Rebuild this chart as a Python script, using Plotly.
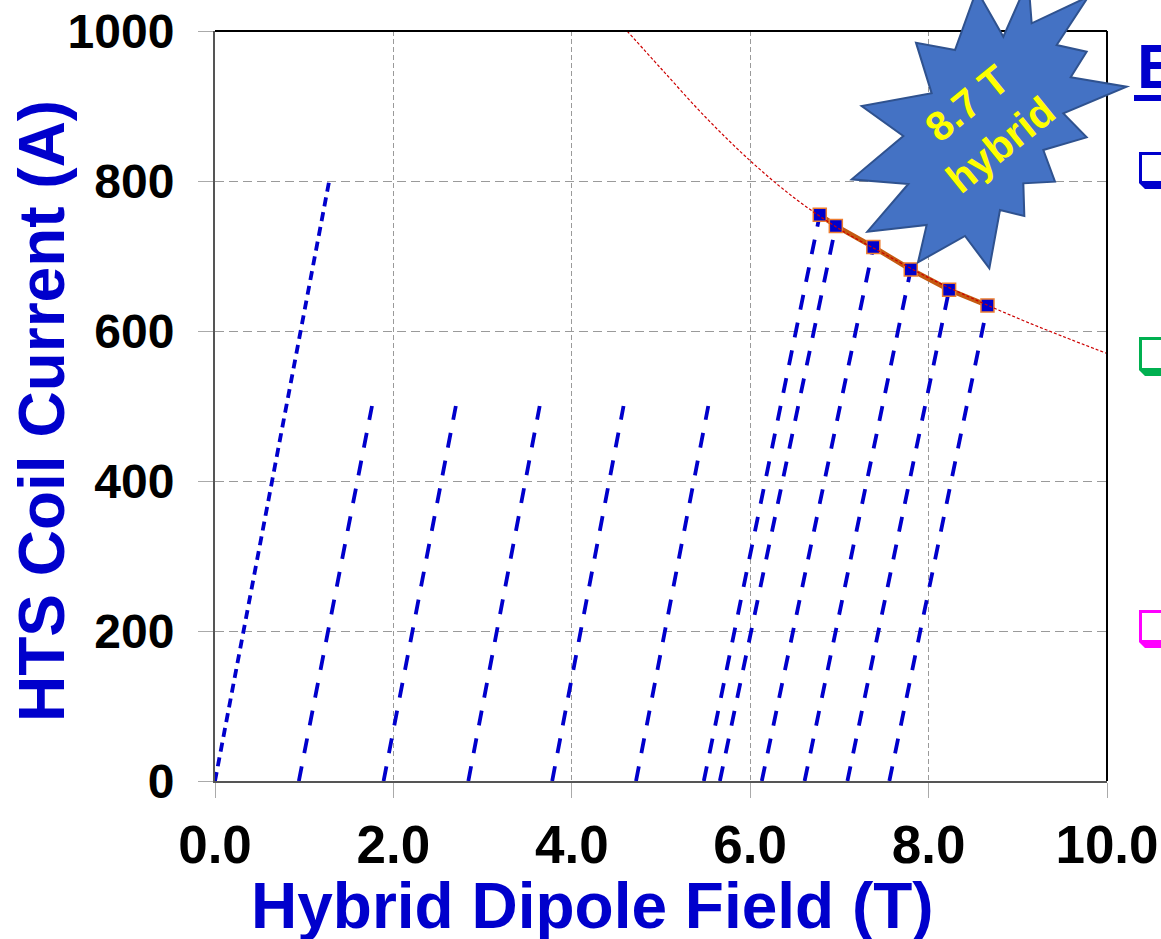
import plotly.graph_objects as go

# ---- data ----
x_ticks = [0, 2, 4, 6, 8, 10]
y_ticks = [0, 200, 400, 600, 800, 1000]

first_x = [0.0, 1.28]
first_y = [0, 800]

start_500 = [0.94, 1.89, 2.84, 3.78, 4.72]
end_500 = [1.76, 2.70, 3.64, 4.58, 5.53]

start_peak = [5.48, 5.66, 6.13, 6.61, 7.09, 7.56]
peak_b = [6.78, 6.96, 7.38, 7.80, 8.23, 8.66]
peak_i = [755, 740, 712, 682, 655, 634]

limit_b = [4.62, 5.0, 5.5, 6.0, 6.5, 7.0, 7.5, 8.0, 8.5, 9.0, 9.5, 10.0]
limit_i = [1000, 950, 885, 827, 777, 736, 703, 671, 643, 617, 593, 570]

# ---- styling ----
BLUE = "#0000cc"
FONT = "Liberation Sans, Arial, sans-serif"
W, H = 1161, 939
L, R, T, B = 215, 1107, 31, 781


def pa_x(v):
    return (v - L) / (R - L)


def pa_y(v):
    return (B - v) / (B - T)


star_zoom = [(525,150),(408,128),(455,280),(245,318),(370,408),(215,538),(385,552),(262,695),
             (440,675),(414,787),(555,708),(628,805),(660,630),(733,648),(730,550),(825,545),
             (790,450),(920,412),(850,340),(1040,260),(872,232),(920,155),(830,135),(925,-10),
             (755,70),(745,-60),(670,110),(590,-30)]
star_path = "M" + " L".join(f"{pa_x(780 + a / 3):.5f},{pa_y(b / 3):.5f}" for a, b in star_zoom) + " Z"

fig = go.Figure()
fig.add_trace(go.Scatter(x=first_x, y=first_y, mode="lines", showlegend=False,
                         line=dict(color=BLUE, width=3.8, dash="9px,6px")))
for s, e in zip(start_500, end_500):
    fig.add_trace(go.Scatter(x=[s, e], y=[0, 500], mode="lines", showlegend=False,
                             line=dict(color=BLUE, width=3.8, dash="15px,13.3px")))
for s, e, i in zip(start_peak, peak_b, peak_i):
    fig.add_trace(go.Scatter(x=[s, e], y=[0, i], mode="lines", showlegend=False,
                             line=dict(color=BLUE, width=3.8, dash="15px,13.3px")))
fig.add_trace(go.Scatter(x=peak_b, y=peak_i, mode="lines+markers", showlegend=False,
                         line=dict(color="#c55a11", width=5),
                         marker=dict(symbol="square", size=13, color=BLUE,
                                     line=dict(color="#ed7d31", width=1.5))))
fig.add_trace(go.Scatter(x=limit_b, y=limit_i, mode="lines", showlegend=False, line_shape="spline",
                         line=dict(color="#cc0000", width=1.2, dash="3px,2px")))


def box_shape(y0, y1, color):
    x0, x1 = 1139, 1170
    outer = [(x0, y0), (x1, y0), (x1, y1), (x0 + 6, y1), (x0, y1 - 6)]
    inner = [(x0 + 3, y0 + 3), (x1, y0 + 3), (x1, y1 - 8), (x0 + 3, y1 - 8)]
    p = lambda pts: "M" + " L".join(f"{pa_x(a):.5f},{pa_y(b):.5f}" for a, b in pts) + " Z"
    return dict(type="path", xref="paper", yref="paper", path=p(outer) + " " + p(inner),
                fillcolor=color, line=dict(width=0), layer="above")


shapes = [
    dict(type="line", xref="paper", yref="paper", x0=0, x1=1, y0=1, y1=1,
         line=dict(color="black", width=2), layer="above"),
    dict(type="line", xref="paper", yref="paper", x0=1, x1=1, y0=0, y1=1,
         line=dict(color="black", width=2), layer="above"),
    dict(type="path", xref="paper", yref="paper", path=star_path, fillcolor="#4472c4",
         line=dict(color="#2f528f", width=2), layer="above"),
    box_shape(152, 189, BLUE), box_shape(337, 376, "#00b050"), box_shape(610, 648, "#ff00ff"),
    dict(type="line", xref="paper", yref="paper", x0=pa_x(1134), x1=pa_x(1170), y0=pa_y(98), y1=pa_y(98),
         line=dict(color=BLUE, width=6), layer="above"),
]

annotations = [
    dict(text="<b>8.7 T<br>hybrid</b>", xref="paper", yref="paper", x=pa_x(983), y=pa_y(124), showarrow=False,
         xanchor="center", yanchor="middle", textangle=-39, font=dict(family=FONT, size=41, color="#ffff00")),
    dict(text="<b>E</b>", xref="paper", yref="paper", x=pa_x(1135), y=pa_y(66), xanchor="left", yanchor="middle",
         showarrow=False, font=dict(family=FONT, size=63, color=BLUE)),
    dict(text="<b>Hybrid Dipole Field (T)</b>", xref="paper", yref="paper", x=pa_x(592), y=pa_y(906),
         xanchor="center", yanchor="middle", showarrow=False, font=dict(family=FONT, size=64, color=BLUE)),
    dict(text="<b>HTS Coil Current (A)</b>", xref="paper", yref="paper", x=pa_x(42), y=pa_y(411),
         xanchor="center", yanchor="middle", textangle=-90, showarrow=False,
         font=dict(family=FONT, size=64, color=BLUE)),
]

axis_common = dict(showgrid=True, gridcolor="#9a9a9a", gridwidth=1, zeroline=False, automargin=False,
                   ticks="outside", ticklen=15, tickcolor="#aaaaaa", tickwidth=1,
                   showline=True, linecolor="#555555", linewidth=2, layer="below traces")

fig.update_layout(
    width=W, height=H, margin=dict(l=L, r=W - R, t=T, b=H - B), autosize=False,
    plot_bgcolor="white", paper_bgcolor="white", showlegend=False,
    shapes=shapes, annotations=annotations,
    xaxis=dict(range=[0, 10], tickvals=x_ticks, ticktext=[f"{v:.1f}" for v in x_ticks], griddash="5px,3px",
               ticklabelstandoff=1,
               tickfont=dict(family=FONT, size=53, color="black", weight="bold"), **axis_common),
    yaxis=dict(range=[0, 1000], tickvals=y_ticks, griddash="9px,5px", ticklabelstandoff=14,
               tickfont=dict(family=FONT, size=48, color="black", weight="bold"), **axis_common),
)

fig.write_html("out.html", config={"displayModeBar": False},
               post_script="document.body.style.margin='0';document.documentElement.style.overflow='hidden';")
